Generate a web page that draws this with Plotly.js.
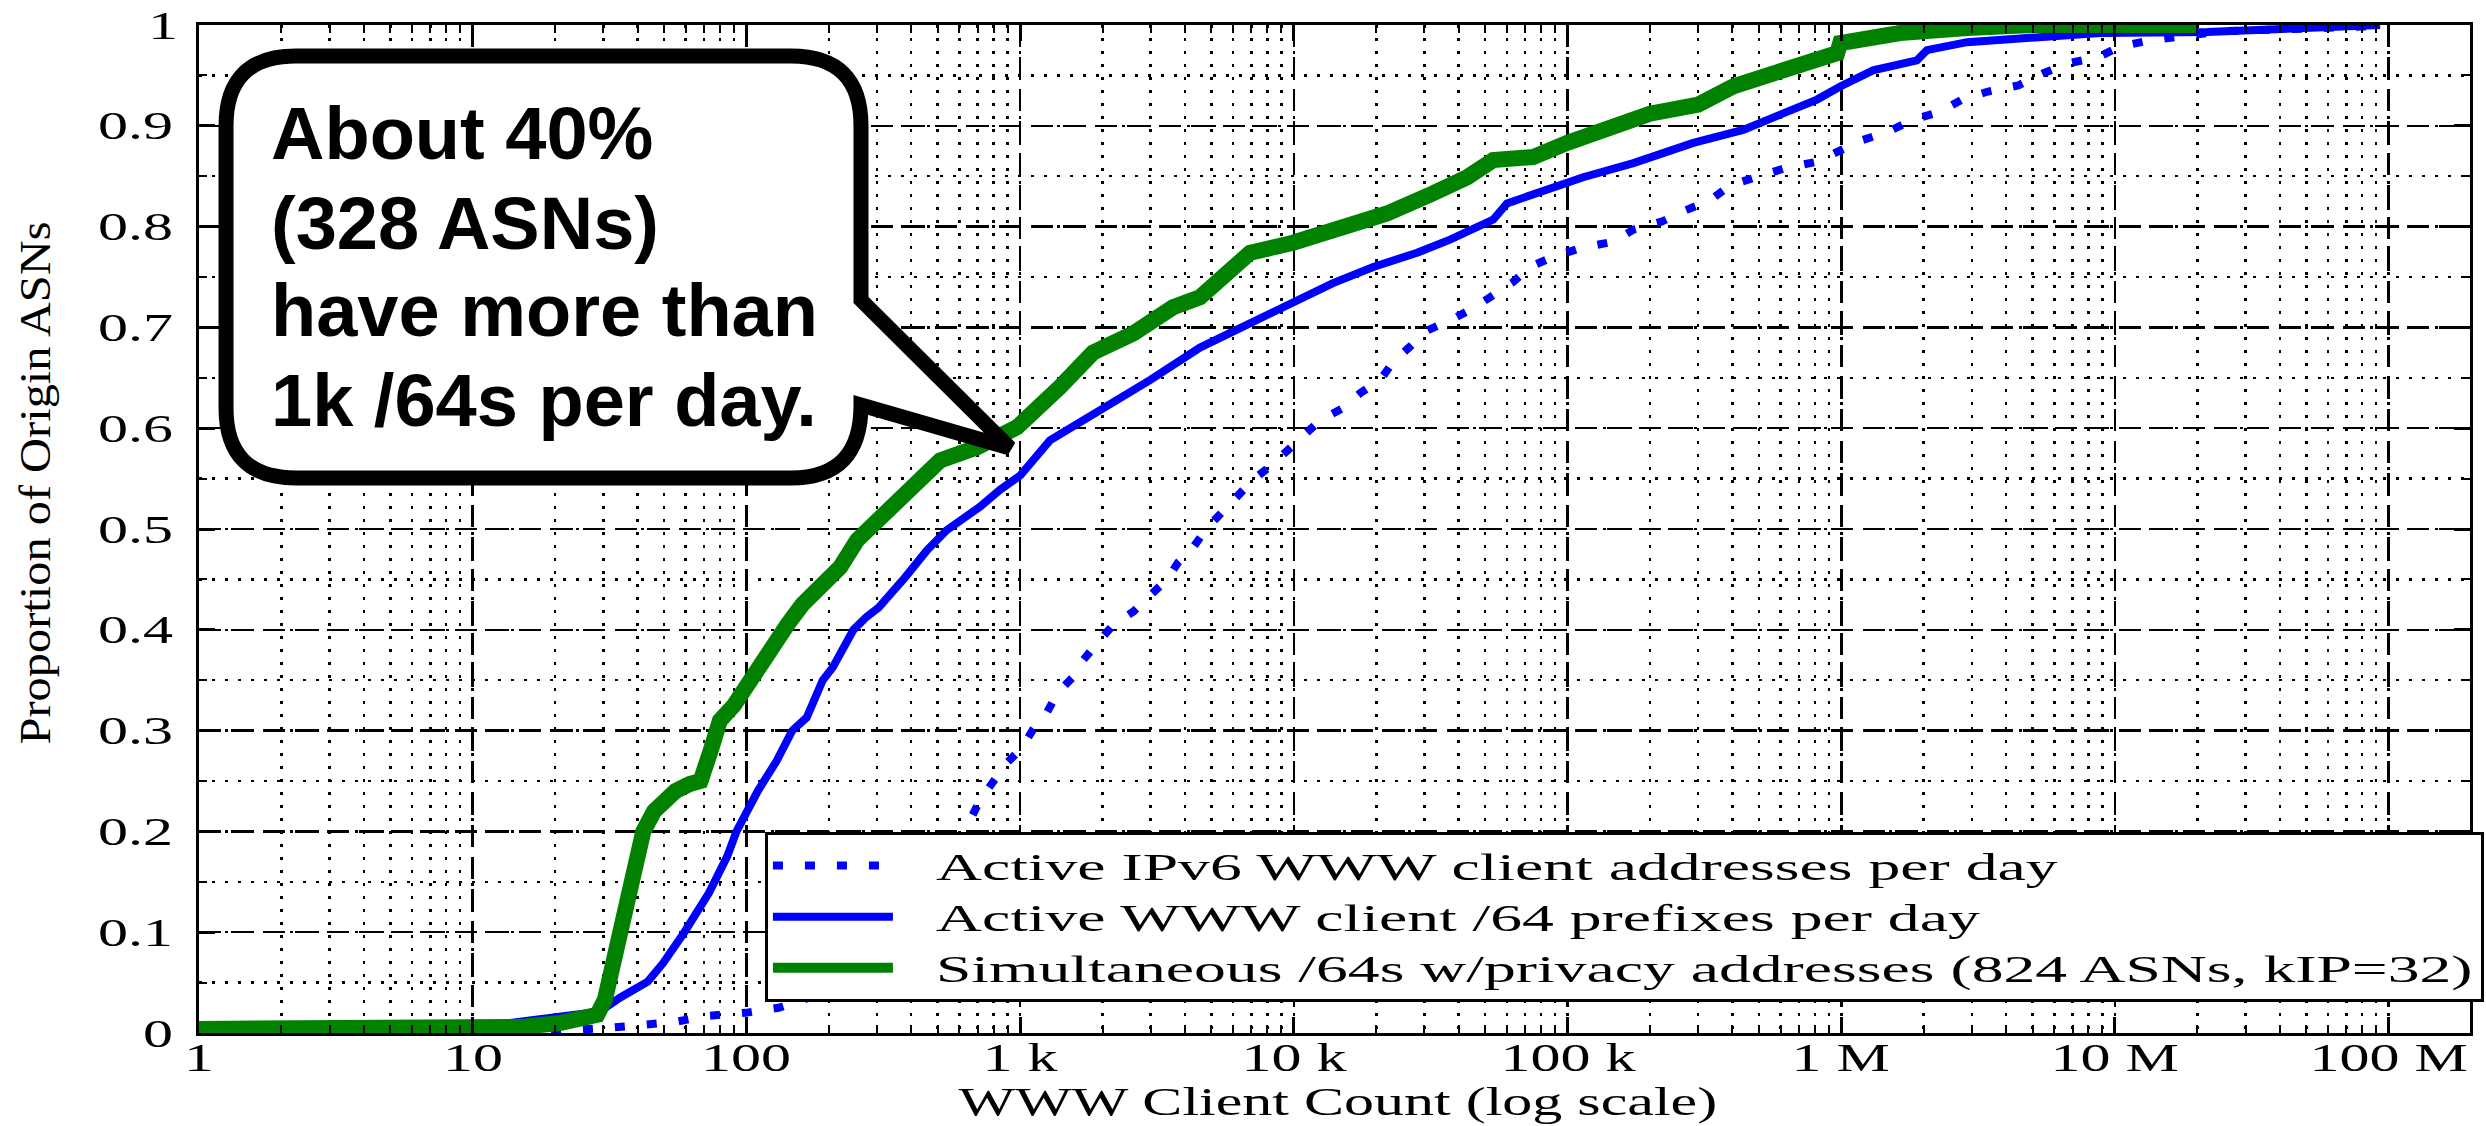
<!DOCTYPE html>
<html>
<head>
<meta charset="utf-8">
<script src="https://cdn.plot.ly/plotly-3.0.1.min.js"></script>
<style>
html,body{margin:0;padding:0;background:#ffffff;}
#chart{width:2486px;height:1126px;}
</style>
<style id="stretch-css"></style>
</head>
<body>
<div id="chart"></div>
<script>
// ---- data (x = WWW client count, y = cumulative proportion of ASNs) ----
const addrX = [1, 20, 31, 41, 55, 72, 99, 131, 162, 200, 250, 316, 400, 500, 600, 656, 713, 796, 895, 1016,
  1114, 1253, 1374, 1560, 1700, 1930, 2190, 2590, 3030, 3440, 3780, 4290, 4820, 5470, 6190, 7100, 8180, 9440, 10800, 12500,
  15100, 17500, 20700, 23100, 26600, 30700, 37200, 45200, 53500, 63200, 72900, 88500, 113000, 147000, 174000, 221000, 269000, 331000, 393000, 492000,
  624000, 802000, 975000, 1200000, 1480000, 1820000, 2300000, 2760000, 3440000, 4430000,
  5460000, 6750000, 8670000, 10500000, 13600000, 18500000, 24800000, 34700000, 47900000, 66100000, 90800000];
const addrY = [0.001, 0.002, 0.005, 0.008, 0.011, 0.017, 0.02, 0.025, 0.033, 0.045, 0.06, 0.085, 0.115, 0.155, 0.19, 0.211, 0.231, 0.249, 0.268, 0.283,
  0.301, 0.318, 0.338, 0.353, 0.37, 0.388, 0.405, 0.418, 0.435, 0.45, 0.467, 0.482, 0.501, 0.517, 0.534, 0.549, 0.562, 0.578, 0.593, 0.608,
  0.62, 0.635, 0.648, 0.666, 0.681, 0.697, 0.707, 0.719, 0.732, 0.745, 0.76, 0.77, 0.779, 0.785, 0.797, 0.805, 0.816, 0.826, 0.841, 0.849,
  0.858, 0.864, 0.874, 0.886, 0.894, 0.906, 0.914, 0.926, 0.934, 0.94,
  0.952, 0.962, 0.968, 0.979, 0.985, 0.99, 0.994, 0.995, 0.996, 0.997, 0.999];

const pfxX = [1, 3, 10, 13.7, 21, 29, 34.5, 43.6, 49.5, 59, 73, 85, 92, 110, 129, 147, 166, 190, 207, 246,
  275, 304, 380, 457, 540, 640, 713, 845, 1000, 1285, 1960, 2990, 4540, 6920, 9930, 13900, 19500, 28200, 37200, 53500,
  60100, 81500, 114000, 174000, 288000, 438000, 612000, 815000, 991000, 1306000, 1890000, 2056000, 2880000, 5000000, 8830000, 21700000, 62700000, 93000000];
const pfxY = [0.002, 0.003, 0.005, 0.01, 0.016, 0.021, 0.035, 0.051, 0.069, 0.099, 0.139, 0.175, 0.2, 0.24, 0.27, 0.3, 0.313, 0.35, 0.363, 0.4,
  0.413, 0.422, 0.452, 0.479, 0.499, 0.512, 0.522, 0.539, 0.553, 0.588, 0.618, 0.648, 0.68, 0.704, 0.724, 0.744, 0.76, 0.774, 0.787, 0.807,
  0.823, 0.836, 0.849, 0.863, 0.883, 0.896, 0.913, 0.926, 0.939, 0.955, 0.965, 0.975, 0.983, 0.988, 0.992, 0.993, 0.997, 1.0];

const simX = [1, 5, 10, 15, 21, 28.5, 30.4, 32.3, 34.5, 37.6, 40.2, 42, 46, 52, 55, 62, 68, 74, 80, 90,
  104, 120, 141, 160, 171, 190, 220, 254, 327, 430, 510, 695, 975, 1400, 1845, 2590, 3620, 4540, 6920, 9930,
  14750, 21900, 32300, 43000, 53500, 74800, 99500, 131500, 200000, 300000, 403000, 612000, 966000, 991000, 1640000, 2880000, 5000000, 20000000];
const simY = [0.004, 0.004, 0.005, 0.006, 0.01, 0.018, 0.033, 0.066, 0.099, 0.149, 0.182, 0.2, 0.22, 0.235, 0.24, 0.247, 0.25, 0.28, 0.31, 0.325,
  0.352, 0.382, 0.405, 0.425, 0.433, 0.443, 0.462, 0.489, 0.516, 0.549, 0.568, 0.581, 0.601, 0.641, 0.675, 0.694, 0.72, 0.73, 0.774, 0.784,
  0.8, 0.813, 0.833, 0.849, 0.866, 0.869, 0.883, 0.896, 0.912, 0.921, 0.939, 0.955, 0.972, 0.982, 0.992, 0.997, 1.0, 1.0];

const seriesNames = [
  'Active IPv6 WWW client addresses per day',
  'Active WWW client /64 prefixes per day',
  'Simultaneous /64s w/privacy addresses (824 ASNs, kIP=32)'
];
const xTickVals = [1, 10, 100, 1000, 10000, 100000, 1000000, 10000000, 100000000];
const xTickText = ['1', '10', '100', '1 k', '10 k', '100 k', '1 M', '10 M', '100 M'];
const yTickVals = [0, 0.1, 0.2, 0.3, 0.4, 0.5, 0.6, 0.7, 0.8, 0.9, 1];
const yTickText = ['0', '0.1', '0.2', '0.3', '0.4', '0.5', '0.6', '0.7', '0.8', '0.9', '1'];
const xTitle = 'WWW Client Count (log scale)';
const yTitle = 'Proportion of Origin ASNs';
const calloutLines = ['About 40%', '(328 ASNs)', 'have more than', '1k /64s per day.'];

// ---- styling ----
const SERIF = 'Liberation Serif, Times New Roman, serif';
const SANS = 'Liberation Sans, Arial, sans-serif';
const LEGEND_STRETCH = 1.72;
const serifFont = {family: SERIF, size: 40, color: '#000000'};

const traces = [
  {x: addrX, y: addrY, name: seriesNames[0], type: 'scatter', mode: 'lines',
   line: {color: '#0000ff', width: 8, dash: '10px,22px'}},
  {x: pfxX, y: pfxY, name: seriesNames[1], type: 'scatter', mode: 'lines',
   line: {color: '#0000ff', width: 8}},
  {x: simX, y: simY, name: seriesNames[2], type: 'scatter', mode: 'lines',
   line: {color: '#008200', width: 16}}
];

const gridCommon = {
  gridcolor: '#000000', gridwidth: 2.5, griddash: '22px,10px',
  showline: true, linecolor: '#000000', linewidth: 3, mirror: 'ticks',
  ticks: 'inside', ticklen: 16, tickwidth: 3, tickcolor: '#000000',
  zeroline: false, showticklabels: false
};

// tick labels are drawn as annotations tied to the axes, so they can be stretched like the reference
const xTickAnnotations = xTickVals.map(function (v, i) {
  return {text: xTickText[i], xref: 'x', yref: 'paper', x: Math.log10(v), y: -0.0248,
          xanchor: 'center', yanchor: 'middle', showarrow: false, font: serifFont};
});
const yTickAnnotations = yTickVals.map(function (v, i) {
  return {text: yTickText[i], xref: 'paper', yref: 'y', x: -0.0106, y: v,
          xanchor: 'right', yanchor: 'middle', align: 'right', showarrow: false, font: serifFont};
});
const calloutAnnotations = calloutLines.map(function (t, i) {
  const ys = [0.8919, 0.8026, 0.7163, 0.6270];
  return {text: '<b>' + t + '</b>', xref: 'paper', yref: 'paper', x: 0.0308, y: ys[i],
          xanchor: 'left', yanchor: 'middle', showarrow: false,
          font: {family: SANS, size: 74, color: '#000000'}};
});
const titleAnnotations = [
  {text: xTitle, xref: 'paper', yref: 'paper', x: 0.5015, y: -0.0675, xanchor: 'center', yanchor: 'middle',
   showarrow: false, font: serifFont},
  {text: yTitle, xref: 'paper', yref: 'paper', x: -0.0722, y: 0.5456, xanchor: 'center', yanchor: 'middle',
   textangle: -90, showarrow: false, font: {family: SERIF, size: 45, color: '#000000'}}
];
const allAnnotations = titleAnnotations.concat(xTickAnnotations, yTickAnnotations, calloutAnnotations);

// CSS horizontal stretch for the serif annotation texts (x title and tick labels)
(function buildStretchCss() {
  const rules = [];
  const sel = function (i) { return '.annotation[data-index="' + i + '"] text.annotation-text'; };
  rules.push(sel(0) + '{transform:scaleX(1.5);transform-box:fill-box;transform-origin:50% 50%;}');
  const xStart = titleAnnotations.length;
  const yStart = xStart + xTickAnnotations.length;
  xTickAnnotations.forEach(function (a, i) {
    rules.push(sel(xStart + i) + '{transform:scaleX(1.5);transform-box:fill-box;transform-origin:50% 50%;}');
  });
  yTickAnnotations.forEach(function (a, i) {
    rules.push(sel(yStart + i) + '{transform:scaleX(1.5);transform-box:fill-box;transform-origin:100% 50%;}');
  });
  document.getElementById('stretch-css').textContent = rules.join('\n');
})();

const layout = {
  width: 2486, height: 1126,
  margin: {l: 199, r: 16, t: 25, b: 93, autoexpand: false},
  paper_bgcolor: '#ffffff', plot_bgcolor: '#ffffff',
  showlegend: true,
  xaxis: Object.assign({}, gridCommon, {
    type: 'log', range: [0, 8.297], tickmode: 'array', tickvals: xTickVals,
    minor: {dtick: 'D1', ticks: 'inside', ticklen: 8, tickwidth: 2, tickcolor: '#000000',
            showgrid: true, gridcolor: '#000000', gridwidth: 2.5, griddash: '3px,10px'}
  }),
  yaxis: Object.assign({}, gridCommon, {
    range: [0, 1], tickmode: 'array', tickvals: yTickVals,
    minor: {dtick: 0.05, tick0: 0, ticks: 'inside', ticklen: 8, tickwidth: 2, tickcolor: '#000000',
            showgrid: true, gridcolor: '#000000', gridwidth: 2.5, griddash: '3px,10px'}
  }),
  legend: {
    x: 0.2492, y: 0.1994, xanchor: 'left', yanchor: 'top',
    bgcolor: '#ffffff', bordercolor: '#000000', borderwidth: 3,
    font: {family: SERIF, size: 37, color: '#000000'},
    itemwidth: 120, tracegroupgap: 0
  },
  shapes: [{
    type: 'path', xref: 'paper', yref: 'paper', layer: 'above',
    path: 'M 0.0427,0.9692 L 0.2607,0.9692 Q 0.2915,0.9692 0.2915,0.8998 L 0.2915,0.7272 ' +
          'L 0.3571,0.5804 L 0.2915,0.6230 Q 0.2915,0.5506 0.2607,0.5506 L 0.0427,0.5506 ' +
          'Q 0.0119,0.5506 0.0119,0.6200 L 0.0119,0.8998 Q 0.0119,0.9692 0.0427,0.9692 Z',
    fillcolor: '#ffffff', line: {color: '#000000', width: 15}
  }],
  annotations: allAnnotations
};

function stretchText(el, factor, fixedLen) {
  el.removeAttribute('textLength');
  const w = el.getComputedTextLength();
  if (!w) return;
  el.setAttribute('textLength', (fixedLen || w * factor).toFixed(1));
  el.setAttribute('lengthAdjust', 'spacingAndGlyphs');
}

function inlineStretch(el, origin) {
  el.style.transform = 'scaleX(1.5)';
  el.style.transformBox = 'fill-box';
  el.style.transformOrigin = origin;
}

let fixing = false;
function fixAll() {
  if (fixing) return;
  fixing = true;
  try {
    const gd = document.getElementById('chart');
    gd.querySelectorAll('.annotation-text').forEach(function (t) {
      const s = (t.textContent || '').replace(/\u00a0/g, ' ').trim();
      if (s === yTitle) stretchText(t, 1, 523);
      else if (s === xTitle || xTickText.indexOf(s) >= 0) inlineStretch(t, '50% 50%');
      else if (yTickText.indexOf(s) >= 0) inlineStretch(t, '100% 50%');
    });
    const leg = gd.querySelector('.legend');
    if (leg) {
      const bg = leg.querySelector('rect.bg');
      const texts = leg.querySelectorAll('.legendtext');
      if (bg && texts.length) {
        const bgLeft = bg.getBoundingClientRect().left;
        texts.forEach(function (t) {
          const cur = t.getAttribute('x') || '0';
          if (t.getAttribute('data-x1') !== cur) t.setAttribute('data-x0', cur);
          const x0 = parseFloat(t.getAttribute('data-x0'));
          t.setAttribute('x', String(x0));
          const left = t.getBoundingClientRect().left;
          const nx = String(x0 + (bgLeft + 169.5 - left));
          t.setAttribute('x', nx);
          t.setAttribute('data-x1', nx);
          stretchText(t, LEGEND_STRETCH);
        });
        leg.querySelectorAll('[clip-path]').forEach(function (g) { g.removeAttribute('clip-path'); });
        let maxR = 0;
        texts.forEach(function (t) { maxR = Math.max(maxR, t.getBoundingClientRect().right); });
        bg.setAttribute('width', (maxR + 10 - bgLeft).toFixed(1));
      }
    }
  } catch (e) { /* keep going */ }
  fixing = false;
}

const chartDiv = document.getElementById('chart');
Plotly.newPlot(chartDiv, traces, layout, {displayModeBar: false, staticPlot: true}).then(function (gd) {
  fixAll();
  gd.on('plotly_afterplot', fixAll);
  setTimeout(fixAll, 30);
  setTimeout(fixAll, 300);
  setTimeout(fixAll, 1000);
});
</script>
</body>
</html>
